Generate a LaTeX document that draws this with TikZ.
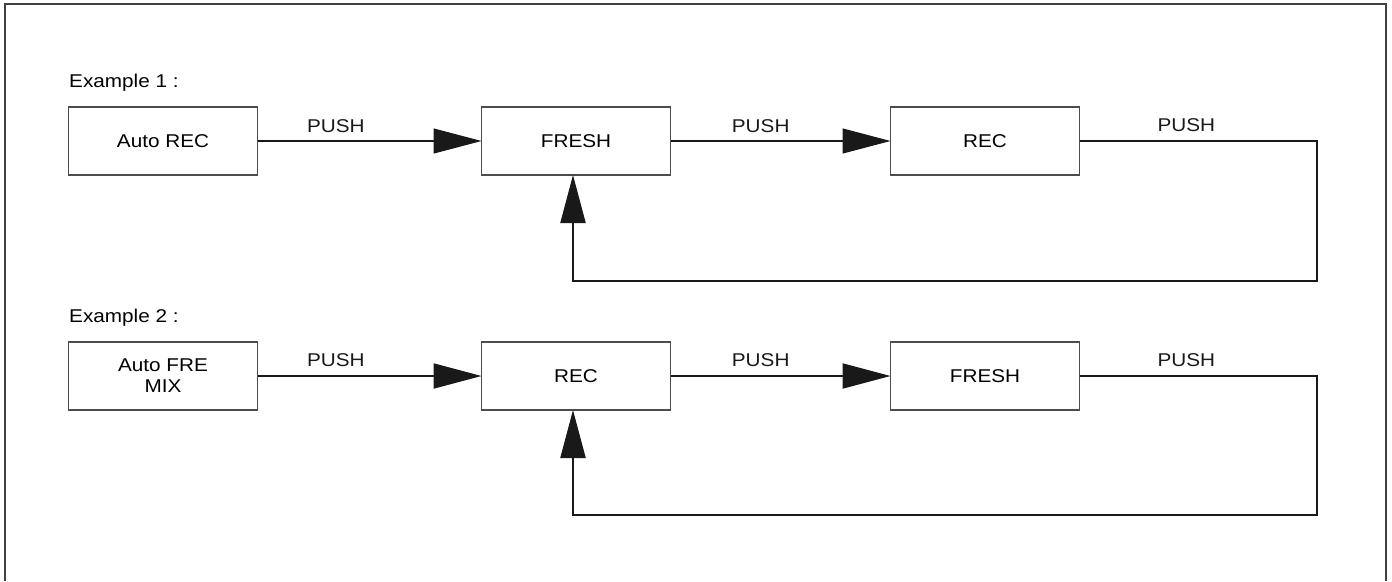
\documentclass[tikz,border=0pt]{standalone}
\usepackage{fontspec}
\setmainfont{Liberation Sans}[FakeStretch=1.12]
\usetikzlibrary{positioning,arrows.meta}
\begin{document}
\begin{tikzpicture}[x=1pt,y=-1pt,>={Triangle[length=48pt,width=25pt]},
  box/.style={draw=black!70,line width=1.2pt,minimum width=189pt,minimum height=68pt,
    outer sep=0pt,align=center,font=\fontsize{18.5}{21}\selectfont},
  lbl/.style={inner sep=0pt,font=\fontsize{18.5}{21}\selectfont},
  flow/.style={->,black!90}]
\useasboundingbox (0,0) rectangle (1392,581);
\draw[line width=2pt,black!75] (5,581) -- (5,4) -- (1386,4) -- (1386,581);

% example 1
\node[lbl,anchor=base west] (exone) at (69,87) {Example 1 :};
\node[box] (autorec) at (163,141) {Auto REC};
\node[box,right=224pt of autorec] (freshone) {FRESH};
\node[box,right=220pt of freshone] (recone) {REC};
\coordinate (turnone) at (1317,281);
\coordinate (upone) at ([xshift=-3pt]freshone.south);
\draw[flow,line width=1.2pt] (autorec) -- node[lbl,above=8pt,pos=0.35] {PUSH} (freshone);
\draw[flow,line width=1.2pt] (freshone) -- node[lbl,above=8pt,pos=0.41] {PUSH} (recone);
\draw[flow,line width=2pt] (recone.east) -- node[lbl,above=8pt,pos=0.45] {PUSH} (recone.east -| turnone)
  -- (turnone) -- (turnone -| upone) -- (upone);

% example 2
\node[lbl,anchor=base west] (extwo) at (69,322) {Example 2 :};
\node[box] (autofre) at (163,376) {Auto FRE\\MIX};
\node[box,right=224pt of autofre] (rectwo) {REC};
\node[box,right=220pt of rectwo] (freshtwo) {FRESH};
\coordinate (turntwo) at (1317,515);
\coordinate (uptwo) at ([xshift=-3pt]rectwo.south);
\draw[flow,line width=2pt] (autofre) -- node[lbl,above=8pt,pos=0.35] {PUSH} (rectwo);
\draw[flow,line width=2pt] (rectwo) -- node[lbl,above=8pt,pos=0.41] {PUSH} (freshtwo);
\draw[flow,line width=2pt] (freshtwo.east) -- node[lbl,above=8pt,pos=0.45] {PUSH} (freshtwo.east -| turntwo)
  -- (turntwo) -- (turntwo -| uptwo) -- (uptwo);
\end{tikzpicture}
\end{document}
